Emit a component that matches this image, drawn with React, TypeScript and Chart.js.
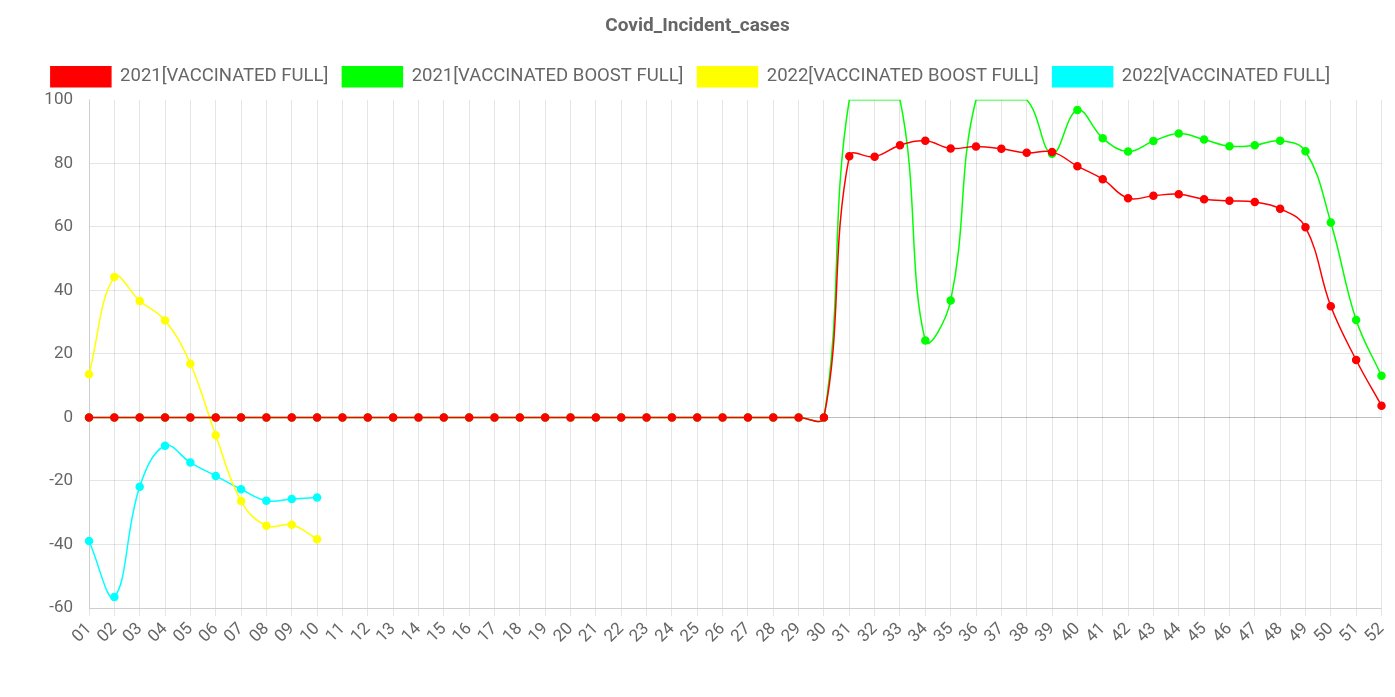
import React, { useEffect, useRef } from "react";
import { Chart, registerables } from "chart.js";

Chart.register(...registerables);

const weeks: string[] = [
  "01","02","03","04","05","06","07","08","09","10",
  "11","12","13","14","15","16","17","18","19","20",
  "21","22","23","24","25","26","27","28","29","30",
  "31","32","33","34","35","36","37","38","39","40",
  "41","42","43","44","45","46","47","48","49","50",
  "51","52",
];

const vaccinatedFull2021: number[] = [
  0,0,0,0,0,0,0,0,0,0,
  0,0,0,0,0,0,0,0,0,0,
  0,0,0,0,0,0,0,0,0,0,
  82.2,82.1,85.7,87.1,84.7,85.3,84.6,83.3,83.6,79.1,
  75.0,69.0,69.8,70.3,68.7,68.2,67.8,65.7,59.9,35.0,
  18.1,3.7,
];

const boostFull2021: number[] = [
  0,0,0,0,0,0,0,0,0,0,
  0,0,0,0,0,0,0,0,0,0,
  0,0,0,0,0,0,0,0,0,0,
  100,100,100,24.2,36.8,100,100,100,83.0,96.8,
  87.9,83.7,87.0,89.4,87.5,85.4,85.7,87.1,83.8,61.4,
  30.7,13.1,
];

const boostFull2022: number[] = [13.6,44.2,36.7,30.5,16.9,-5.6,-26.3,-34.1,-33.8,-38.3];

const vaccinatedFull2022: number[] = [-38.9,-56.5,-21.8,-8.9,-14.2,-18.4,-22.6,-26.2,-25.7,-25.2];

const yMin = -60;
const yMax = 100;
const yStep = 20;

const legendTweak = {
  id: "legendTweak",
  afterInit(chart: any) {
    const legend = chart.legend;
    if (!legend) return;
    const origFit = legend.fit.bind(legend);
    legend.fit = function () {
      origFit();
      this.height += 3;
    };
    const origDraw = legend.draw.bind(legend);
    legend.draw = function () {
      const ctx = chart.ctx;
      ctx.save();
      ctx.translate(-7, 0);
      origDraw();
      ctx.restore();
    };
  },
};

export default function App() {
  const canvasRef = useRef<HTMLCanvasElement | null>(null);

  useEffect(() => {
    if (!canvasRef.current) return;
    Chart.defaults.font.family = "Roboto";
    Chart.defaults.color = "#666";
    const mk = (label: string, data: number[], color: string) => ({
      label,
      data,
      borderColor: color,
      backgroundColor: color,
      pointBackgroundColor: color,
      pointBorderColor: color,
      borderWidth: 1.5,
      pointRadius: (ctx: any) => (ctx.raw >= yMax ? 0 : 3.5),
      pointHoverRadius: 4,
      tension: 0.4,
      fill: false,
    });
    const chart = new Chart(canvasRef.current, {
      type: "line",
      data: {
        labels: weeks,
        datasets: [
          mk("2021[VACCINATED FULL]", vaccinatedFull2021, "#ff0000"),
          mk("2021[VACCINATED BOOST FULL]", boostFull2021, "#00ff00"),
          mk("2022[VACCINATED BOOST FULL]", boostFull2022, "#ffff00"),
          mk("2022[VACCINATED FULL]", vaccinatedFull2022, "#00ffff"),
        ],
      },
      plugins: [legendTweak],
      options: {
        animation: false,
        responsive: true,
        maintainAspectRatio: false,
        layout: { padding: { left: 0, right: 0, top: 0, bottom: 47 } },
        plugins: {
          title: {
            display: true,
            text: "Covid_Incident_cases",
            color: "#666",
            font: { size: 19, weight: "bold" },
            padding: { top: 7, bottom: 15 },
          },
          legend: {
            display: true,
            labels: {
              boxWidth: 60,
              boxHeight: 20,
              color: "#666",
              font: { size: 18.5 },
              padding: 14,
            },
          },
          tooltip: { enabled: false },
        },
        scales: {
          x: {
            grid: { color: "rgba(0,0,0,0.1)", tickLength: 8 },
            ticks: {
              autoSkip: false,
              minRotation: 45,
              maxRotation: 45,
              color: "#666",
              font: { size: 17 },
            },
            afterFit: (scale: any) => {
              scale.paddingLeft = 0;
              scale.paddingRight = 1;
            },
          },
          y: {
            min: yMin,
            max: yMax,
            grid: {
              color: (ctx: any) =>
                ctx.tick && ctx.tick.value === 0
                  ? "rgba(0,0,0,0.25)"
                  : ctx.tick && ctx.tick.value === yMax
                  ? "rgba(0,0,0,0)"
                  : "rgba(0,0,0,0.1)",
              drawTicks: false,
            },
            ticks: { stepSize: yStep, color: "#666", font: { size: 17 }, padding: 16 },
            afterFit: (scale: any) => {
              scale.width = 81;
            },
          },
        },
      },
    });
    return () => chart.destroy();
  }, []);

  return (
    <div style={{ width: "100%", height: 689 }}>
      <canvas ref={canvasRef} />
    </div>
  );
}
